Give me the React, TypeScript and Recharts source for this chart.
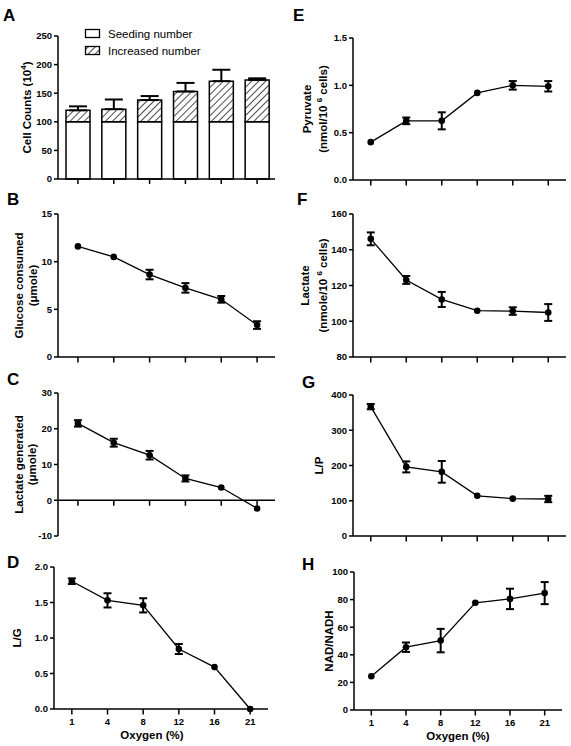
import {
  ComposedChart,
  Line,
  Bar,
  XAxis,
  YAxis,
  ErrorBar,
  ReferenceLine,
} from "recharts";

const oxygen = ["1", "4", "8", "12", "16", "21"];

// A: cell counts (10^4)
const seeding = [100, 100, 100, 100, 100, 100];
const increased = [20, 22, 38, 53, 71, 73];
const increasedErr = [7, 17, 7, 15, 20, 3];

// B: glucose consumed (umole)
const glucose = [11.6, 10.5, 8.65, 7.25, 6.05, 3.35];
const glucoseErr = [null, null, 0.5, 0.5, 0.35, 0.4];

// C: lactate generated (umole)
const lactateGen = [21.5, 16.1, 12.6, 6.1, 3.55, -2.3];
const lactateGenErr = [0.9, 1.1, 1.2, 0.85, null, null];

// D: L/G
const lg = [1.8, 1.53, 1.46, 0.845, 0.59, 0.0];
const lgErr = [0.04, 0.1, 0.1, 0.07, null, null];

// E: pyruvate (nmol/10^6 cells)
const pyruvate = [0.4, 0.625, 0.625, 0.92, 1.0, 0.99];
const pyruvateErr = [null, 0.035, 0.09, null, 0.045, 0.055];

// F: lactate (nmole/10^6 cells)
const lactate = [146.1, 123.1, 112.2, 105.9, 105.7, 104.9];
const lactateErr = [3.6, 2.2, 4.2, null, 2.1, 4.7];

// G: L/P
const lp = [367, 196, 182, 114, 106, 105];
const lpErr = [7.5, 15.6, 30.7, null, null, 9];

// H: NAD/NADH
const nad = [24.5, 45.5, 50.3, 77.7, 80.5, 84.7];
const nadErr = [null, 3.4, 8.5, null, 7.4, 8];

const FONT = '"Liberation Sans", Arial, Helvetica, sans-serif';
const YW = 58;
const MT = 8;
const MR = 4;
const TS = 5; // x tick length (px)
const TM = 4; // x tick label gap

const axisStyle = { stroke: "#000", strokeWidth: 1.5 };
const tickStyle = { fill: "#000", fontSize: 9.5, fontWeight: "bold", fontFamily: FONT };

type Part = string | { sup: string };
type Geom = { axisX: number; right: number; top: number; bottom: number; xh: number; pad?: number };

const rowsOf = (vals: number[], errs: (number | null)[]) =>
  oxygen.map((o, i) => ({ o, v: vals[i], e: errs[i] }));

const barRows = oxygen.map((o, i) => ({
  o,
  s: seeding[i],
  inc: increased[i],
  incErr: [0, increasedErr[i]],
}));

function EmptyTick() {
  return <g />;
}

function LabelTick(props: any) {
  const { x, y, payload } = props;
  return (
    <text x={x} y={y} dy="0.71em" textAnchor="middle" {...tickStyle}>
      {payload.value}
    </text>
  );
}

function renderParts(parts: Part[]) {
  let up = false;
  return parts.map((p, i) => {
    if (typeof p === "string") {
      const dy = up ? 4 : 0;
      up = false;
      return (
        <tspan key={i} dy={dy}>
          {p}
        </tspan>
      );
    }
    up = true;
    return (
      <tspan key={i} dy={-4} fontSize={8}>
        {p.sup}
      </tspan>
    );
  });
}

function yTitle(lines: Part[][], offsets: number[]) {
  return (props: any) => {
    const vb = props.viewBox || {};
    const ax = vb.x + vb.width;
    const cy = vb.y + vb.height / 2;
    return (
      <g>
        {lines.map((ln, i) => {
          const cx = ax + offsets[i];
          return (
            <text
              key={i}
              x={cx}
              y={cy}
              transform={`rotate(-90 ${cx} ${cy})`}
              textAnchor="middle"
              dominantBaseline="central"
              fontFamily={FONT}
              fontWeight="bold"
              fontSize={11.5}
              fill="#000"
            >
              {renderParts(ln)}
            </text>
          );
        })}
      </g>
    );
  };
}

function xTitle(dx: number) {
  return (props: any) => {
    const vb = props.viewBox || {};
    return (
      <text
        x={vb.x + vb.width / 2 + dx}
        y={vb.y + 30}
        textAnchor="middle"
        fontFamily={FONT}
        fontWeight="bold"
        fontSize={11.5}
        fill="#000"
      >
        Oxygen (%)
      </text>
    );
  };
}

function frame(g: Geom) {
  return {
    style: { position: "absolute" as const, left: g.axisX - YW, top: g.top - MT },
    width: g.right - g.axisX + YW + MR,
    height: g.bottom - g.top + MT + g.xh,
  };
}

interface LinePanelProps {
  geom: Geom;
  rows: { o: string; v: number; e: number | null }[];
  domain: [number, number];
  ticks: number[];
  digits?: number;
  title: Part[][];
  offsets: number[];
  showX?: boolean;
  xdx?: number;
  zero?: boolean;
}

function LinePanel({ geom, rows, domain, ticks, digits = 0, title, offsets, showX, xdx = 0, zero }: LinePanelProps) {
  const f = frame(geom);
  // x tick marks hang from the x axis (or from the zero line in C)
  const base = zero ? 0 : domain[0];
  const tickLen = ((domain[1] - domain[0]) * (TS + 0.5)) / (geom.bottom - geom.top);
  return (
    <div style={f.style}>
      <ComposedChart
        width={f.width}
        height={f.height}
        data={rows}
        margin={{ top: MT, right: MR, left: 0, bottom: 0 }}
      >
        <XAxis
          dataKey="o"
          scale="band"
          height={geom.xh}
          interval={0}
          tickSize={TS}
          tickMargin={TM}
          tick={showX ? LabelTick : EmptyTick}
          axisLine={zero ? false : axisStyle}
          tickLine={false}
          padding={{ left: geom.pad || 0, right: 0 }}
          label={showX ? xTitle(xdx) : undefined}
        />
        <YAxis
          width={YW}
          domain={domain}
          ticks={ticks}
          interval={0}
          tickSize={4}
          tickMargin={2}
          tick={tickStyle}
          tickFormatter={(t: number) => t.toFixed(digits)}
          axisLine={axisStyle}
          tickLine={axisStyle}
          label={yTitle(title, offsets)}
        />
        {zero && <ReferenceLine y={0} stroke="#000" strokeWidth={1.5} />}
        {oxygen.map((o) => (
          <ReferenceLine
            key={o}
            segment={[
              { x: o, y: base },
              { x: o, y: base - tickLen },
            ]}
            ifOverflow="visible"
            stroke="#000"
            strokeWidth={1.5}
          />
        ))}
        <Line
          type="linear"
          dataKey="v"
          stroke="#000"
          strokeWidth={1.3}
          dot={{ r: 3.3, fill: "#000", stroke: "#000", strokeWidth: 0 }}
          activeDot={false}
          isAnimationActive={false}
        >
          <ErrorBar dataKey="e" width={4} strokeWidth={2} stroke="#000" direction="y" />
        </Line>
      </ComposedChart>
    </div>
  );
}

function BarPanel() {
  const geom: Geom = { axisX: 58, right: 275, top: 36, bottom: 179, xh: 7, pad: 2 };
  const f = frame(geom);
  return (
    <div style={f.style}>
      <ComposedChart
        width={f.width}
        height={f.height}
        data={barRows}
        margin={{ top: MT, right: MR, left: 0, bottom: 0 }}
      >
        <defs>
          <pattern id="hatchA" patternUnits="userSpaceOnUse" width={5} height={5} patternTransform="rotate(45)">
            <rect width={5} height={5} fill="#fff" />
            <line x1={0} y1={0} x2={0} y2={5} stroke="#000" strokeWidth={1.4} />
          </pattern>
        </defs>
        <XAxis
          dataKey="o"
          height={geom.xh}
          interval={0}
          tickSize={TS}
          tick={EmptyTick}
          axisLine={axisStyle}
          tickLine={axisStyle}
          padding={{ left: 2, right: 0 }}
        />
        <YAxis
          width={YW}
          domain={[0, 250]}
          ticks={[0, 50, 100, 150, 200, 250]}
          interval={0}
          tickSize={4}
          tickMargin={2}
          tick={tickStyle}
          axisLine={axisStyle}
          tickLine={axisStyle}
          label={yTitle([["Cell Counts (10", { sup: "4" }, ")"]], [-31])}
        />
        <Bar dataKey="s" stackId="a" fill="#fff" stroke="#000" strokeWidth={1.5} barSize={24} isAnimationActive={false} />
        <Bar dataKey="inc" stackId="a" fill="url(#hatchA)" stroke="#000" strokeWidth={1.5} barSize={24} isAnimationActive={false}>
          <ErrorBar dataKey="incErr" width={9} strokeWidth={2} stroke="#000" direction="y" />
        </Bar>
      </ComposedChart>
    </div>
  );
}

const letters = [
  { t: "A", x: 3, y: 21 },
  { t: "B", x: 7, y: 205 },
  { t: "C", x: 7, y: 385 },
  { t: "D", x: 7, y: 568 },
  { t: "E", x: 293, y: 21 },
  { t: "F", x: 297, y: 205 },
  { t: "G", x: 302, y: 388 },
  { t: "H", x: 302, y: 570 },
];

export default function App() {
  return (
    <div style={{ position: "absolute", left: 0, top: 0, width: 571, height: 746, background: "#fff", overflow: "hidden" }}>
      <svg width={571} height={746} style={{ position: "absolute", left: 0, top: 0 }}>
        <defs>
          <pattern id="hatchL" patternUnits="userSpaceOnUse" width={5} height={5} patternTransform="rotate(45)">
            <rect width={5} height={5} fill="#fff" />
            <line x1={0} y1={0} x2={0} y2={5} stroke="#000" strokeWidth={1.4} />
          </pattern>
        </defs>
        {letters.map((l) => (
          <text key={l.t} x={l.x} y={l.y} fontFamily={FONT} fontWeight="bold" fontSize={17} fill="#000">
            {l.t}
          </text>
        ))}
        <rect x={85.5} y={29.5} width={14} height={8} fill="#fff" stroke="#000" strokeWidth={1.3} />
        <text x={108} y={37.5} fontFamily={FONT} fontSize={11.5} fill="#000">
          Seeding number
        </text>
        <rect x={85.5} y={46.5} width={14} height={8} fill="url(#hatchL)" stroke="#000" strokeWidth={1.3} />
        <text x={108} y={54.5} fontFamily={FONT} fontSize={11.5} fill="#000">
          Increased number
        </text>
      </svg>

      <BarPanel />

      <LinePanel
        geom={{ axisX: 58, right: 275, top: 214, bottom: 357, xh: 8, pad: 2 }}
        rows={rowsOf(glucose, glucoseErr)}
        domain={[0, 15]}
        ticks={[0, 5, 10, 15]}
        title={[["Glucose consumed"], ["(\u03bcmole)"]]}
        offsets={[-39, -25]}
      />
      <LinePanel
        geom={{ axisX: 58, right: 275, top: 393, bottom: 536, xh: 8, pad: 2 }}
        rows={rowsOf(lactateGen, lactateGenErr)}
        domain={[-10, 30]}
        ticks={[-10, 0, 10, 20, 30]}
        title={[["Lactate generated"], ["(\u03bcmole)"]]}
        offsets={[-39, -26]}
        zero
      />
      <LinePanel
        geom={{ axisX: 54, right: 268, top: 567, bottom: 709, xh: 36 }}
        rows={rowsOf(lg, lgErr)}
        domain={[0, 2]}
        ticks={[0, 0.5, 1, 1.5, 2]}
        digits={1}
        title={[["L/G"]]}
        offsets={[-37]}
        showX
        xdx={-9}
      />
      <LinePanel
        geom={{ axisX: 353, right: 566, top: 38, bottom: 180, xh: 8 }}
        rows={rowsOf(pyruvate, pyruvateErr)}
        domain={[0, 1.5]}
        ticks={[0, 0.5, 1, 1.5]}
        digits={1}
        title={[["Pyruvate"], ["(nmol/10 ", { sup: "6" }, " cells)"]]}
        offsets={[-46, -30]}
      />
      <LinePanel
        geom={{ axisX: 353, right: 566, top: 214, bottom: 357, xh: 8 }}
        rows={rowsOf(lactate, lactateErr)}
        domain={[80, 160]}
        ticks={[80, 100, 120, 140, 160]}
        title={[["Lactate"], ["(nmole/10 ", { sup: "6" }, " cells)"]]}
        offsets={[-48, -30]}
      />
      <LinePanel
        geom={{ axisX: 353, right: 566, top: 395, bottom: 536, xh: 8 }}
        rows={rowsOf(lp, lpErr)}
        domain={[0, 400]}
        ticks={[0, 100, 200, 300, 400]}
        title={[["L/P"]]}
        offsets={[-34]}
      />
      <LinePanel
        geom={{ axisX: 354, right: 562, top: 572, bottom: 710, xh: 36 }}
        rows={rowsOf(nad, nadErr)}
        domain={[0, 100]}
        ticks={[0, 20, 40, 60, 80, 100]}
        title={[["NAD/NADH"]]}
        offsets={[-25]}
        showX
      />
    </div>
  );
}
